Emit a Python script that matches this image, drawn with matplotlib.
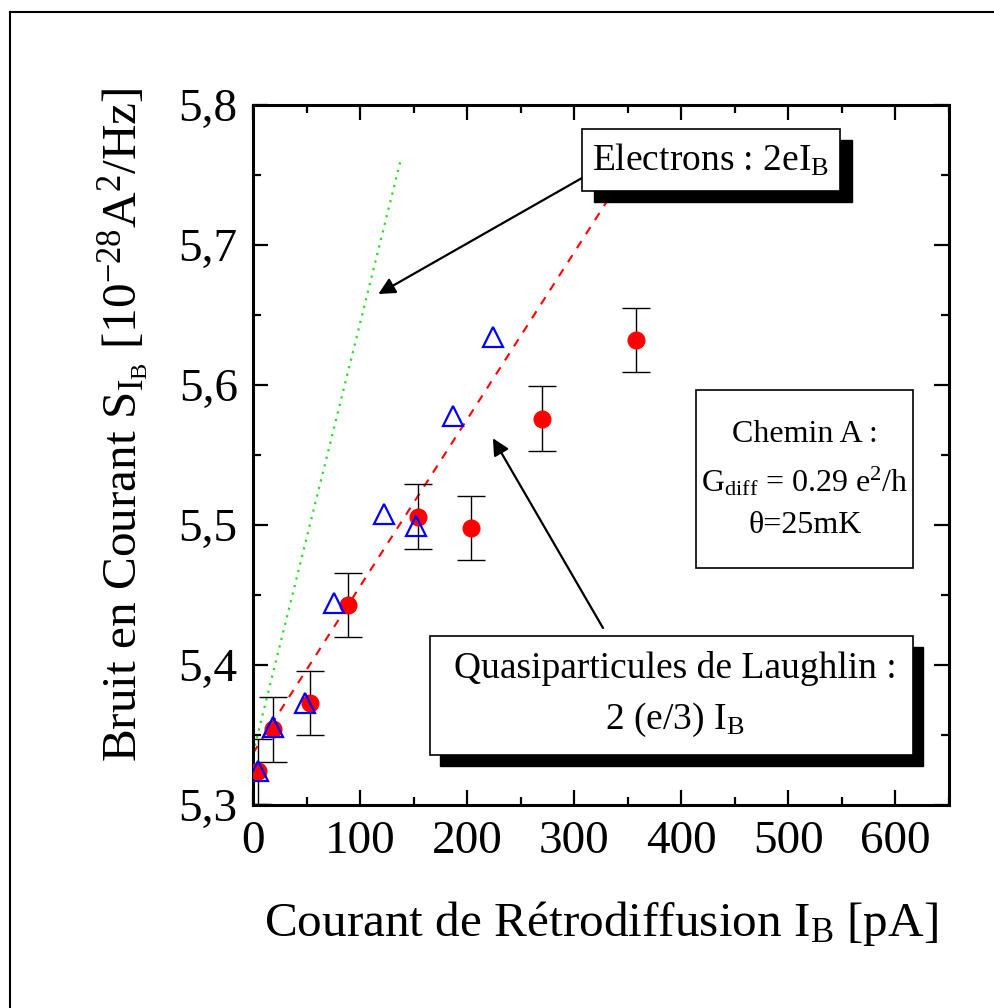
import matplotlib
matplotlib.use("Agg")
import matplotlib.pyplot as plt
from matplotlib.patches import Rectangle
from matplotlib.ticker import FuncFormatter, MultipleLocator

plt.rcParams["font.family"] = ["Liberation Serif", "DejaVu Serif"]
plt.rcParams["mathtext.fontset"] = "custom"
plt.rcParams["mathtext.rm"] = "Liberation Serif"
plt.rcParams["mathtext.it"] = "Liberation Serif:italic"

# mesures (cercles rouges, avec barres d'erreur)
ib_mes = [5, 19, 53, 89, 154, 204, 270, 358]
s_mes = [5.324, 5.354, 5.373, 5.443, 5.506, 5.498, 5.576, 5.632]
s_err = [0.023, 0.023, 0.023, 0.023, 0.023, 0.023, 0.023, 0.023]

# triangles bleus
ib_tri = [5, 19, 49, 76, 122, 152, 187, 224]
s_tri = [5.324, 5.356, 5.373, 5.444, 5.508, 5.499, 5.578, 5.634]

# droites theoriques (extremites)
ib_laughlin = [0, 358]
s_laughlin = [5.337, 5.764]
ib_electrons = [0, 138]
s_electrons = [5.337, 5.761]

W, H = 995, 1008


def fx(px):
    return px / W


def fy(py):
    return 1 - py / H


def box(fig, x0, y0, x1, y1, shadow=None):
    # coordonnees en pixels, origine en haut a gauche
    if shadow:
        dx, dy = shadow
        fig.add_artist(Rectangle((fx(x0 + dx), fy(y1 + dy)), fx(x1 - x0), (y1 - y0) / H,
                                 transform=fig.transFigure, fc="black", ec="black", zorder=5))
    fig.add_artist(Rectangle((fx(x0), fy(y1)), fx(x1 - x0), (y1 - y0) / H,
                             transform=fig.transFigure, fc="white", ec="black", lw=1.2, zorder=6))


fig = plt.figure(figsize=(9.95, 10.08), dpi=100)
ax = fig.add_axes([0.2543, 0.2014, 0.6995, 0.6944])

ax.plot(ib_electrons, s_electrons, ls=(0, (1, 2.5)), color="#22dd22", lw=1.6, zorder=2)
ax.plot(ib_laughlin, s_laughlin, ls=(0, (4, 4)), color="#ff0000", lw=1.5, zorder=2)

ax.errorbar(ib_mes, s_mes, yerr=s_err, fmt="o", color="#ff0000", ms=12,
            ecolor="black", elinewidth=1, capsize=10, capthick=1, zorder=3)
ax.plot(ib_tri, s_tri, "^", ms=14, mfc="none", mec="#0000ff", mew=1.6, zorder=4)

ax.set_xlim(0, 650)
ax.set_ylim(5.3, 5.8)
ax.set_xticks([0, 100, 200, 300, 400, 500, 600])
ax.set_yticks([5.3, 5.4, 5.5, 5.6, 5.7, 5.8])
ax.xaxis.set_minor_locator(MultipleLocator(50))
ax.yaxis.set_minor_locator(MultipleLocator(0.05))
ax.yaxis.set_major_formatter(FuncFormatter(lambda v, p: f"{v:.1f}".replace(".", ",")))
ax.tick_params(which="both", direction="in", top=True, right=True, width=1.6)
ax.tick_params(which="major", length=11, labelsize=34, pad=11)
ax.tick_params(which="minor", length=6)
for sp in ax.spines.values():
    sp.set_linewidth(2.2)

ax.set_xlabel(r"Courant de Rétrodiffusion I$_\mathrm{B}$ [pA]", fontsize=35.5, labelpad=26)
ax.set_ylabel(r"Bruit en Courant S$_{\mathrm{I_B}}$ [10$^{-28}$A$^2$/Hz]", fontsize=35.5)
ax.yaxis.set_label_coords(-0.145, 0.543)

# fleches
ax.annotate("", xy=(117, 5.665), xytext=(fx(582), fy(178)), textcoords="figure fraction",
            arrowprops=dict(arrowstyle="-|>", color="black", lw=1.6,
                            mutation_scale=25, shrinkA=0, shrinkB=0))
ax.annotate("", xy=(224, 5.562), xytext=(fx(603), fy(628)), textcoords="figure fraction",
            arrowprops=dict(arrowstyle="-|>", color="black", lw=1.6,
                            mutation_scale=25, shrinkA=0, shrinkB=0))

# boites
box(fig, 582, 129, 840, 191, shadow=(12, 11))
fig.text(fx(711), fy(160), r"Electrons : 2eI$_\mathrm{B}$", fontsize=27,
         ha="center", va="center", zorder=7)

box(fig, 430, 636, 913, 755, shadow=(10, 11))
fig.text(fx(675), fy(695), "Quasiparticules de Laughlin :\n" + r"2 (e/3) I$_\mathrm{B}$",
         fontsize=27, ha="center", va="center", linespacing=1.5, zorder=7)

box(fig, 696, 390, 913, 568)
fig.text(fx(805), fy(480), "Chemin A :\n" + r"G$_\mathrm{diff}$ = 0.29 e$^2$/h" + "\nθ=25mK",
         fontsize=23, ha="center", va="center", linespacing=1.6, zorder=7)

fig.add_artist(plt.Line2D([0.0105, 0.0105], [0.0, 0.988], color="black", lw=1.5))
fig.add_artist(plt.Line2D([0.0105, 1.0], [0.988, 0.988], color="black", lw=1.5))

fig.savefig("out.png", dpi=100)
